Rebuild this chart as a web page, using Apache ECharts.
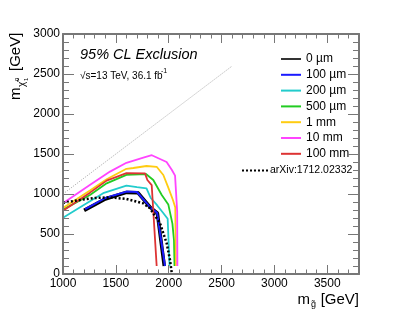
<!DOCTYPE html>
<html><head><meta charset="utf-8">
<script src="https://cdn.jsdelivr.net/npm/echarts@6/dist/echarts.min.js"></script>
<style>html,body{margin:0;padding:0;background:#fff}.c{width:399px;height:316px;position:absolute;left:0;top:0}#ax,#lb{pointer-events:none}</style>
</head><body><div class="c" id="c"></div><div class="c" id="ax"></div><div class="c" id="lb"></div>
<script>
// ---- data ----
const xTicks = [1000, 1500, 2000, 2500, 3000, 3500];
const yTicks = [0, 500, 1000, 1500, 2000, 2500, 3000];
const legendNames = ['0 µm', '100 µm', '200 µm', '500 µm', '1 mm', '10 mm', '100 mm'];
const refName = 'arXiv:1712.02332';

const gl_0um   = [1200, 1400, 1600, 1710, 1830, 1893, 1958];
const ch_0um   = [795, 938, 1020, 1015, 828, 760, 100];
const gl_100um = [1210, 1400, 1600, 1700, 1823, 1890, 1965];
const ch_100um = [810, 950, 1030, 1025, 835, 765, 100];
const gl_200um = [1000, 1220, 1380, 1600, 1700, 1790, 1830, 1890, 1950, 1990, 2008];
const ch_200um = [704, 880, 1010, 1105, 1085, 1070, 950, 860, 760, 690, 100];
const gl_500um = [1000, 1255, 1413, 1600, 1785, 1854, 1934, 1996, 2035, 2050, 2055];
const ch_500um = [805, 988, 1133, 1240, 1250, 1175, 988, 870, 630, 420, 100];
const gl_1mm   = [1000, 1255, 1413, 1600, 1665, 1790, 1886, 1949, 1996, 2040, 2062, 2068];
const ch_1mm   = [825, 1045, 1185, 1315, 1325, 1350, 1340, 1238, 1080, 925, 830, 100];
const gl_10mm  = [1000, 1250, 1445, 1600, 1760, 1840, 1980, 2030, 2060, 2080, 2082];
const ch_10mm  = [885, 1110, 1280, 1390, 1455, 1485, 1400, 1300, 1230, 780, 100];
const gl_100mm = [1000, 1255, 1413, 1600, 1776, 1798, 1839, 1886];
const ch_100mm = [790, 1017, 1167, 1260, 1258, 1175, 1112, 100];
const gl_arxiv = [1000, 1160, 1300, 1445, 1600, 1760, 1823, 1918, 1981, 2012, 2030];
const ch_arxiv = [891, 925, 950, 958, 938, 883, 821, 633, 383, 175, 0];
const diagX = [1000, 2600];
const diagY = [1000, 2600];

// ---- build ----
const FONT = '"Liberation Sans", Arial, Helvetica, sans-serif';
const AX = '#777';
const GRID = {left: 63, top: 34, width: 296, height: 240};
const pair = (xs, ys) => xs.map((x, i) => [x, ys[i]]);

const curves = [
  {name: legendNames[0], xs: gl_0um, ys: ch_0um, color: '#000000', width: 3.5, lcolor: '#333'},
  {name: legendNames[1], xs: gl_100um, ys: ch_100um, color: '#1a1aff', width: 2},
  {name: legendNames[2], xs: gl_200um, ys: ch_200um, color: '#22cccc', width: 1.8},
  {name: legendNames[3], xs: gl_500um, ys: ch_500um, color: '#22cc22', width: 1.8},
  {name: legendNames[4], xs: gl_1mm, ys: ch_1mm, color: '#ffcc11', width: 1.8},
  {name: legendNames[5], xs: gl_10mm, ys: ch_10mm, color: '#ff44ff', width: 1.8},
  {name: legendNames[6], xs: gl_100mm, ys: ch_100mm, color: '#dd3333', width: 1.8}
];

const series = [{
  name: 'diag', type: 'line', data: pair(diagX, diagY), symbol: 'none', silent: true,
  lineStyle: {color: '#888', width: 0.8, type: [1, 1.5]}
}];
curves.forEach(c => series.push({
  name: c.name, type: 'line', data: pair(c.xs, c.ys), symbol: 'none',
  color: c.color, lineStyle: {color: c.color, width: c.width}
}));
series.push({
  name: refName, type: 'line', data: pair(gl_arxiv, ch_arxiv), symbol: 'none',
  color: '#000', lineStyle: {color: '#000', width: 2.5, type: [2, 2]}
});

const hiddenX = {type: 'value', min: xTicks[0], max: 3800, show: false};
const hiddenY = {type: 'value', min: yTicks[0], max: yTicks[yTicks.length - 1], show: false};
const dotIcon = 'path://M0,0h2v2h-2zM4,0h2v2h-2zM8,0h2v2h-2zM12,0h2v2h-2zM16,0h2v2h-2zM20,0h2v2h-2zM24,0h2v2h-2z';

// layer 1: data, legend and texts
const option = {
  animation: false,
  backgroundColor: '#fff',
  grid: GRID,
  xAxis: hiddenX,
  yAxis: hiddenY,
  legend: [{
    data: curves.map(c => ({name: c.name, icon: 'rect', itemStyle: {color: c.lcolor || c.color}})),
    orient: 'vertical', left: 276, top: 47,
    itemWidth: 20, itemHeight: 2, itemGap: 1.8, selectedMode: false,
    textStyle: {fontSize: 12, color: '#000', fontFamily: FONT, lineHeight: 14}
  }, {
    data: [{name: refName, icon: dotIcon, itemStyle: {color: '#000'}}],
    orient: 'vertical', left: 237, top: 159,
    itemWidth: 26, itemHeight: 2, selectedMode: false,
    textStyle: {fontSize: 10.5, color: '#000', fontFamily: FONT, lineHeight: 13, padding: [0, 0, 0, -3]}
  }],
  graphic: [
    {type: 'text', left: 80, top: 47, style: {text: '95% CL Exclusion', font: 'italic 14.5px ' + FONT, fill: '#000'}},
    {type: 'text', left: 80, top: 71, style: {text: '√s=13 TeV, 36.1 fb', font: '10px ' + FONT, fill: '#000'}},
    {type: 'text', left: 161, top: 68, style: {text: '-1', font: '7px ' + FONT, fill: '#000'}},
    {type: 'text', x: 359, y: 300, style: {text: '[GeV]', font: '15px ' + FONT, fill: '#000', align: 'right', verticalAlign: 'middle'}},
    {type: 'text', x: 316, y: 305, style: {text: 'g̃', font: '9px ' + FONT, fill: '#000', align: 'right', verticalAlign: 'middle'}},
    {type: 'text', x: 310, y: 300, style: {text: 'm', font: '15px ' + FONT, fill: '#000', align: 'right', verticalAlign: 'middle'}},
    {type: 'group', x: 16, y: 100, rotation: Math.PI / 2, children: [
      {type: 'text', x: 0, y: 0, style: {text: 'm', font: '15px ' + FONT, fill: '#000', align: 'left', verticalAlign: 'middle'}},
      {type: 'text', x: 13, y: 6, style: {text: 'χ̃', font: '10px ' + FONT, fill: '#000', align: 'left', verticalAlign: 'middle'}},
      {type: 'text', x: 19, y: 1, style: {text: '0', font: '6px ' + FONT, fill: '#000', align: 'left', verticalAlign: 'middle'}},
      {type: 'text', x: 19, y: 10, style: {text: '1', font: '6px ' + FONT, fill: '#000', align: 'left', verticalAlign: 'middle'}},
      {type: 'text', x: 29, y: 0, style: {text: '[GeV]', font: '15px ' + FONT, fill: '#000', align: 'left', verticalAlign: 'middle'}}
    ]}
  ],
  series: series
};
echarts.init(document.getElementById('c')).setOption(option);

// layer 2: frame, ticks (plain label settings, labels invisible)
function xAx(pos, labels, major) {
  return {
    type: 'value', position: pos, min: xTicks[0], max: 3800, interval: major ? 500 : 100,
    axisLine: {show: major, onZero: false, lineStyle: {color: AX, width: 2}},
    axisTick: {show: true, inside: true, length: major ? 9 : 4.5, lineStyle: {color: AX, width: 1}},
    axisLabel: {show: labels, fontSize: 12, color: 'rgba(0,0,0,0)'},
    splitLine: {show: false}
  };
}
function yAx(pos, labels) {
  return {
    type: 'value', position: pos, min: yTicks[0], max: yTicks[yTicks.length - 1], interval: 500,
    axisLine: {show: true, onZero: false, lineStyle: {color: AX, width: 2}},
    axisTick: {show: true, inside: true, length: 11, lineStyle: {color: AX, width: 1}},
    minorTick: {show: true, splitNumber: 5, length: 6, lineStyle: {color: AX, width: 1}},
    axisLabel: {show: labels, fontSize: 12, color: 'rgba(0,0,0,0)'},
    splitLine: {show: false}
  };
}
echarts.init(document.getElementById('ax')).setOption({
  animation: false,
  grid: GRID,
  xAxis: [xAx('bottom', true, true), xAx('bottom', false, false), xAx('top', false, true), xAx('top', false, false)],
  yAxis: [yAx('left', true), yAx('right', false)],
  series: [{type: 'line', data: [[xTicks[0], yTicks[0]]], symbol: 'none', silent: true, lineStyle: {opacity: 0}}]
});

// layer 3: tick labels only
const plainFmt = v => String(v);
echarts.init(document.getElementById('lb')).setOption({
  animation: false,
  grid: GRID,
  xAxis: {type: 'value', min: xTicks[0], max: 3800, interval: 500,
    axisLine: {show: false}, axisTick: {show: false}, splitLine: {show: false},
    axisLabel: {showMaxLabel: false, formatter: plainFmt, fontSize: 12, color: '#000', fontFamily: FONT, margin: 4}},
  yAxis: {type: 'value', min: yTicks[0], max: yTicks[yTicks.length - 1], interval: 500,
    axisLine: {show: false}, axisTick: {show: false}, splitLine: {show: false},
    axisLabel: {formatter: plainFmt, fontSize: 12, color: '#000', fontFamily: FONT, margin: 3}},
  series: [{type: 'line', data: [[xTicks[0], yTicks[0]]], symbol: 'none', silent: true, lineStyle: {opacity: 0}}]
});
</script></body></html>
